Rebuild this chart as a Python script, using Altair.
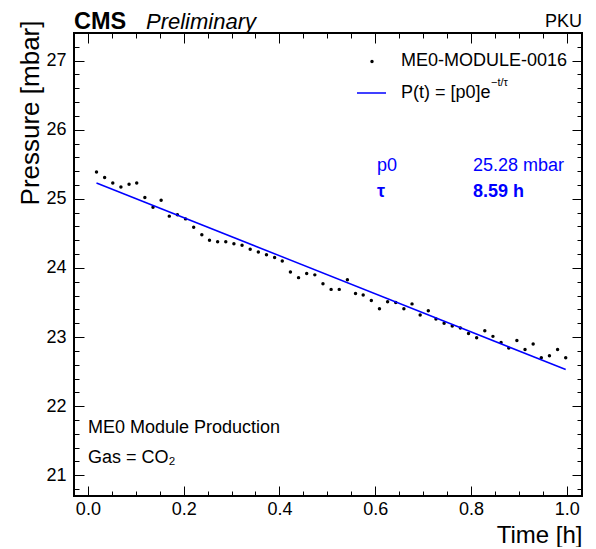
import altair as alt
import pandas as pd

# ---- data ----
time_h = [0.018, 0.035, 0.052, 0.069, 0.086, 0.102, 0.119, 0.136, 0.153, 0.170,
          0.187, 0.204, 0.221, 0.238, 0.254, 0.271, 0.288, 0.305, 0.322, 0.339,
          0.356, 0.373, 0.390, 0.406, 0.423, 0.440, 0.457, 0.474, 0.491, 0.508,
          0.525, 0.542, 0.559, 0.575, 0.592, 0.609, 0.626, 0.643, 0.660, 0.677,
          0.694, 0.711, 0.727, 0.744, 0.761, 0.778, 0.795, 0.812, 0.829, 0.846,
          0.863, 0.879, 0.896, 0.913, 0.930, 0.947, 0.964, 0.981, 0.998]
pressure_mbar = [25.39, 25.31, 25.23, 25.17, 25.21, 25.23, 25.02, 24.88, 24.98, 24.75,
                 24.77, 24.71, 24.59, 24.48, 24.40, 24.38, 24.38, 24.35, 24.33, 24.27,
                 24.23, 24.19, 24.15, 24.10, 23.94, 23.86, 23.92, 23.90, 23.77, 23.69,
                 23.69, 23.83, 23.63, 23.61, 23.53, 23.41, 23.51, 23.50, 23.41, 23.48,
                 23.32, 23.38, 23.26, 23.20, 23.16, 23.13, 23.05, 22.99, 23.09, 23.01,
                 22.92, 22.84, 22.95, 22.82, 22.90, 22.70, 22.73, 22.82, 22.70]
fit_time_h = [0.018, 0.998]
fit_pressure_mbar = [25.23, 22.53]

x_major = [0.0, 0.2, 0.4, 0.6, 0.8, 1.0]
x_minor = [0.0, 0.05, 0.1, 0.15, 0.2, 0.25, 0.3, 0.35, 0.4, 0.45, 0.5,
           0.55, 0.6, 0.65, 0.7, 0.75, 0.8, 0.85, 0.9, 0.95, 1.0]
y_major = [21, 22, 23, 24, 25, 26, 27]
y_minor = [20.8, 21.0, 21.2, 21.4, 21.6, 21.8, 22.0, 22.2, 22.4, 22.6, 22.8,
           23.0, 23.2, 23.4, 23.6, 23.8, 24.0, 24.2, 24.4, 24.6, 24.8, 25.0,
           25.2, 25.4, 25.6, 25.8, 26.0, 26.2, 26.4, 26.6, 26.8, 27.0, 27.2, 27.4]

series_label = "ME0-MODULE-0016"
fit_label = "P(t) = [p0]e"
fit_label_sup = "\u2212t/\u03c4"
param_names = ["p0", "\u03c4"]
param_values = ["25.28 mbar", "8.59 h"]
info_lines = ["ME0 Module Production", "Gas = CO\u2082"]

# ---- layout ----
W, H = 508, 463
XDOM = [-0.029, 1.032]
YDOM = [20.7, 27.4]
FONT = "Liberation Sans"
BLUE = "#0000ff"

df = pd.DataFrame({"t": time_h, "p": pressure_mbar})
fit = pd.DataFrame({"t": fit_time_h, "p": fit_pressure_mbar})

xs = alt.Scale(domain=XDOM, nice=False, zero=False)
ys = alt.Scale(domain=YDOM, nice=False, zero=False)


def tick_axis(orient, values, size, offset, **kw):
    return alt.Axis(orient=orient, values=values, tickSize=size, offset=offset,
                    domain=False, grid=False, ticks=True, tickColor="black",
                    tickWidth=1, **kw)


x_bottom_major = tick_axis(
    "bottom", x_major, 10, -10, format=".1f", labels=True, labelFont=FONT,
    labelFontSize=18, labelColor="black", labelPadding=4, labelFlush=False,
    title="Time [h]", titleFont=FONT, titleFontSize=24, titleFontWeight="normal",
    titleColor="black", titleX=W, titleY=56, titleAlign="right",
    titleBaseline="alphabetic", titleAnchor="end")
y_left_major = tick_axis(
    "left", y_major, 10, -10, format="d", labels=True, labelFont=FONT,
    labelFontSize=18, labelColor="black", labelPadding=8, labelFlush=False,
    title="Pressure [mbar]", titleFont=FONT, titleFontSize=26,
    titleFontWeight="normal", titleColor="black", titleAngle=270,
    titleX=-54, titleY=-13, titleAlign="right", titleBaseline="middle",
    titleAnchor="end")

x_bottom_minor = tick_axis("bottom", x_minor, 5, -5, labels=False, title="")
y_left_minor = tick_axis("left", y_minor, 5, -5, labels=False, title="")
x_top_major = tick_axis("top", x_major, 10, -10, labels=False, title="")
y_right_major = tick_axis("right", y_major, 10, -10, labels=False, title="")
x_top_minor = tick_axis("top", x_minor, 5, -5, labels=False, title="")
y_right_minor = tick_axis("right", y_minor, 5, -5, labels=False, title="")

points = alt.Chart(df).mark_circle(size=12, color="black", opacity=1).encode(
    x=alt.X("t:Q", scale=xs, axis=x_bottom_major),
    y=alt.Y("p:Q", scale=ys, axis=y_left_major),
)
fit_line = alt.Chart(fit).mark_line(color=BLUE, strokeWidth=1.5).encode(
    x=alt.X("t:Q", scale=xs, axis=x_bottom_minor),
    y=alt.Y("p:Q", scale=ys, axis=y_left_minor),
)
frame_a = alt.Chart(df).mark_point(opacity=0).encode(
    x=alt.X("t:Q", scale=xs, axis=x_top_major),
    y=alt.Y("p:Q", scale=ys, axis=y_right_major),
)
frame_b = alt.Chart(df).mark_point(opacity=0).encode(
    x=alt.X("t:Q", scale=xs, axis=x_top_minor),
    y=alt.Y("p:Q", scale=ys, axis=y_right_minor),
)

one = pd.DataFrame({"d": [0]})


def txt(s, x, y, size=18, align="left", baseline="middle", color="black", **kw):
    return alt.Chart(one).mark_text(
        text=s, align=align, baseline=baseline, font=FONT, fontSize=size,
        color=color, **kw).encode(x=alt.value(x), y=alt.value(y))


header = [
    txt("CMS", 0, -4, size=23.5, baseline="alphabetic", fontWeight="bold"),
    txt("Preliminary", 72, -4, size=22, baseline="alphabetic", fontStyle="italic"),
    txt("PKU", W, -6, size=18, align="right", baseline="alphabetic"),
]

legend = [
    alt.Chart(one).mark_circle(size=12, color="black", opacity=1).encode(
        x=alt.value(298), y=alt.value(28.5)),
    txt(series_label, 327, 28),
    alt.Chart(one).mark_rule(color=BLUE, strokeWidth=1.5).encode(
        x=alt.value(283), x2=alt.value(312), y=alt.value(60)),
    txt(fit_label, 327, 60),
    txt(fit_label_sup, 417, 50, size=11),
]

params = [
    txt(param_names[0], 303, 133, color=BLUE),
    txt(param_values[0], 399, 133, color=BLUE),
    txt(param_names[1], 303, 159, color=BLUE, fontWeight="bold"),
    txt(param_values[1], 399, 159, color=BLUE, fontWeight="bold"),
]

info = [
    txt(info_lines[0], 14, 395),
    txt(info_lines[1], 14, 425),
]

chart = alt.layer(
    points, fit_line, frame_a, frame_b, *header, *legend, *params, *info
).resolve_axis(x="independent", y="independent").properties(
    width=W, height=H,
    autosize=alt.AutoSizeParams(type="none"),
    padding={"left": 66, "top": 25, "right": 6, "bottom": 51},
).configure_view(stroke="black", strokeWidth=2)

chart.save("out.html", embed_options={"renderer": "svg", "actions": False})
